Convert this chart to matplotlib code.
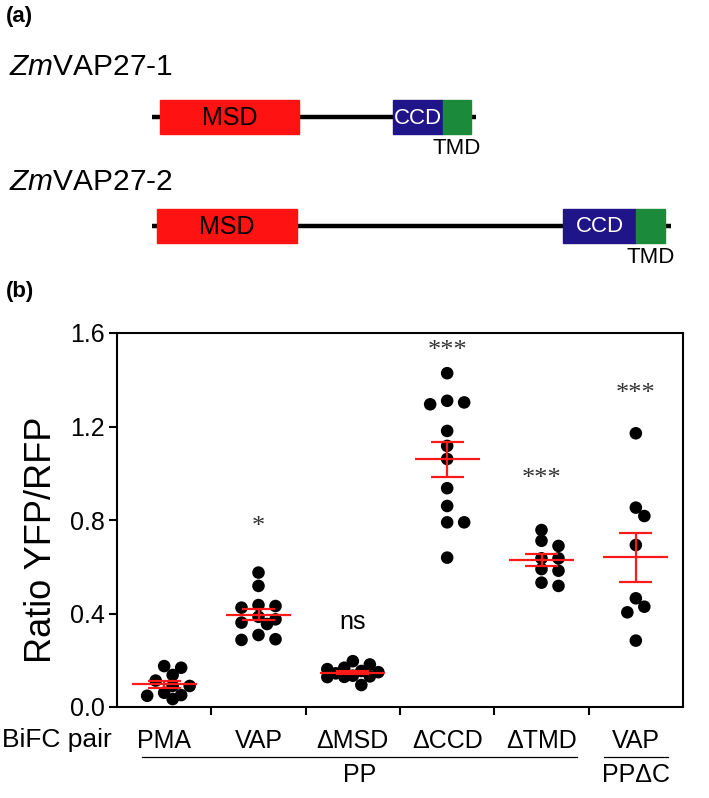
import numpy as np
import matplotlib
matplotlib.use('Agg')
import matplotlib.pyplot as plt
from matplotlib.patches import Rectangle
from matplotlib.transforms import blended_transform_factory

plt.rcParams['font.family'] = ['Liberation Sans', 'DejaVu Sans']
plt.rcParams['mathtext.fontset'] = 'custom'
plt.rcParams['mathtext.rm'] = 'Liberation Sans'
plt.rcParams['mathtext.it'] = 'Liberation Sans:italic'

# (a) domain maps, approx residue positions
prot_names = [r'$\mathit{Zm}$VAP27-1', r'$\mathit{Zm}$VAP27-2']
prot_len = [255, 409]
msd = [(6, 116), (4, 114)]
ccd = [(190, 229), (324, 381)]
tmd = [(229, 251), (381, 404)]

# (b) BiFC ratios
groups = ['PMA', 'VAP', 'ΔMSD', 'ΔCCD', 'ΔTMD', 'VAP']
pma = [0.175, 0.137, 0.168, 0.090, 0.113, 0.090, 0.051, 0.034, 0.048, 0.061]
vap = [0.575, 0.518, 0.425, 0.436, 0.432, 0.308, 0.287, 0.290, 0.375, 0.361, 0.386, 0.355]
dmsd = [0.196, 0.182, 0.168, 0.162, 0.154, 0.149, 0.144, 0.134, 0.131, 0.129, 0.128, 0.094]
dccd = [1.428, 1.303, 1.295, 1.310, 1.181, 1.117, 1.061, 0.936, 0.860, 0.790, 0.790, 0.639]
dtmd = [0.757, 0.689, 0.711, 0.636, 0.636, 0.583, 0.590, 0.518, 0.532]
vap_ppdc = [1.171, 0.853, 0.817, 0.693, 0.465, 0.429, 0.405, 0.284]
data = [pma, vap, dmsd, dccd, dtmd, vap_ppdc]
sig = ['', '*', 'ns', '***', '***', '***']
sig_y = [0, 0.77, 0.365, 1.525, 0.975, 1.34]

W, H = 709, 798
fig = plt.figure(figsize=(W / 100, H / 100), dpi=100)

# ---- panel (a)
axa = fig.add_axes([0, 1 - 300 / H, 1, 300 / H])
axa.set_xlim(-152 / 1.27, (W - 152) / 1.27)
axa.set_ylim(300, 0)
axa.axis('off')
rows = [117, 226]
name_y = [75, 190]
bh = 34
for i in range(2):
    y = rows[i]
    axa.plot([0, prot_len[i]], [y, y], color='k', lw=3.2, solid_capstyle='butt', zorder=1)
    axa.add_patch(Rectangle((msd[i][0], y - bh / 2), msd[i][1] - msd[i][0], bh, color='#fe1212', zorder=2))
    axa.add_patch(Rectangle((ccd[i][0], y - bh / 2), ccd[i][1] - ccd[i][0], bh, color='#1f1488', zorder=2))
    axa.add_patch(Rectangle((tmd[i][0], y - bh / 2), tmd[i][1] - tmd[i][0], bh, color='#1b8a3a', zorder=2))
    axa.text(sum(msd[i]) / 2, y + 1, 'MSD', ha='center', va='center', fontsize=18)
    axa.text(sum(ccd[i]) / 2, y + 1, 'CCD', ha='center', va='center', fontsize=16, color='white')
    axa.text(sum(tmd[i]) / 2, y + bh / 2 + 4, 'TMD', ha='center', va='top', fontsize=16)
    fig.text(9 / W, 1 - name_y[i] / H, prot_names[i], fontsize=21.5, va='baseline')
fig.text(6 / W, 1 - 6 / H, '(a)', fontsize=16, fontweight='bold', va='top')
fig.text(6 / W, 1 - 281 / H, '(b)', fontsize=16, fontweight='bold', va='top')

# ---- panel (b)
ax = fig.add_axes([117 / W, 1 - 707 / H, 566 / W, 374 / H])
ax.set_xlim(0, 6)
ax.set_ylim(0, 1.6)
ax.set_yticks([0, 0.4, 0.8, 1.2, 1.6])
ax.set_yticklabels(['0.0', '0.4', '0.8', '1.2', '1.6'])
ax.set_xticks([1, 2, 3, 4, 5])
ax.set_xticklabels([])
ax.set_xticks(np.arange(6) + 0.5, minor=True)
ax.set_xticklabels(groups, minor=True)
for s in ax.spines.values():
    s.set_linewidth(1.5)
ax.tick_params(axis='both', which='major', length=6, width=1.5, labelsize=18, pad=3)
ax.tick_params(axis='x', which='minor', length=0, labelsize=18, pad=16)


def swarm(center, vals, step=8.5, dmin=10.5, kmax=3):
    # simple beeswarm in pixel space, spread capped at +-kmax steps
    pts, out = [], np.zeros(len(vals))
    inv = ax.transData.inverted()
    ks = [0] + [s * k for k in range(1, kmax + 1) for s in (1, -1)]
    for i in np.argsort(vals)[::-1]:
        x0, y = ax.transData.transform((center, vals[i]))
        best, best_d = None, -1
        for k in ks:
            cx = x0 + k * step
            d = min([np.hypot(cx - px, y - py) for px, py in pts] or [1e9])
            if d >= dmin:
                best = cx
                break
            if d > best_d:
                best, best_d = cx, d
        pts.append((best, y))
        out[i] = inv.transform((best, y))[0]
    return out


for i, vals in enumerate(data):
    c = i + 0.5
    v = np.array(vals)
    xs = swarm(c, v)
    ax.scatter(xs, v, s=82, color='black', edgecolors='none', zorder=2)
    m = v.mean()
    se = v.std(ddof=1) / np.sqrt(len(v))
    ax.hlines(m, c - 0.345, c + 0.345, color='#ff1a1a', lw=1.6, zorder=3)
    ax.hlines([m - se, m + se], c - 0.175, c + 0.175, color='#ff1a1a', lw=1.6, zorder=3)
    ax.vlines(c, m - se, m + se, color='#ff1a1a', lw=1.6, zorder=3)
    if sig[i] == 'ns':
        ax.text(c, sig_y[i], 'ns', ha='center', va='center', fontsize=18)
    elif sig[i]:
        ax.text(c, sig_y[i], sig[i], ha='center', va='center', fontsize=19,
                family='Liberation Serif', color='#333333')

fig.text(42 / W, 1 - 540 / H, 'Ratio YFP/RFP', rotation=90, ha='center', va='center', fontsize=26)
fig.text(2 / W, 1 - 740 / H, 'BiFC pair', ha='left', va='center', fontsize=19)

tr = blended_transform_factory(ax.transData, fig.transFigure)
ly = 1 - 757 / H
ax.plot([0.27, 4.88], [ly, ly], transform=tr, clip_on=False, color='k', lw=0.9)
ax.plot([5.16, 5.84], [ly, ly], transform=tr, clip_on=False, color='k', lw=0.9)
ax.text(2.57, 1 - 775 / H, 'PP', transform=tr, ha='center', va='center', fontsize=18)
ax.text(5.5, 1 - 775 / H, 'PPΔC', transform=tr, ha='center', va='center', fontsize=18)

fig.savefig('out.png', dpi=100)
